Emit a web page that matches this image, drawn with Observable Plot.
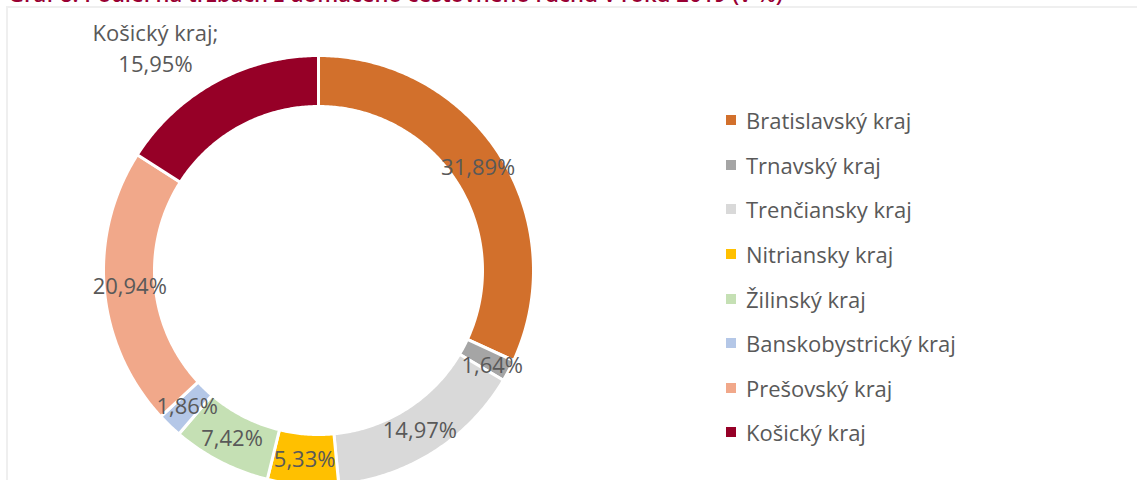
<!DOCTYPE html>
<html>
<head>
<meta charset="utf-8">
<script src="https://cdn.jsdelivr.net/npm/d3@7"></script>
<script src="https://cdn.jsdelivr.net/npm/@observablehq/plot@0.6"></script>
<style>
  html, body { margin: 0; padding: 0; background: #fff; }
  #wrap { position: relative; width: 1137px; height: 480px; overflow: hidden; font-family: "Open Sans", sans-serif; }
  #title { position: absolute; left: 8px; top: -18px; font-size: 22px; line-height: 22px; font-weight: 600; color: #990033; white-space: nowrap; }
  #frame { position: absolute; left: 6px; top: 6px; width: 1200px; height: 600px; border-left: 2px solid #efefef; border-top: 2px solid #efefef; }
  #chart { position: absolute; left: 0; top: 0; }
  #legend { position: absolute; left: 726px; top: 98px; }
  .item { height: 44.6px; display: flex; align-items: center; font-size: 22px; color: #595959; }
  .sw { width: 10px; height: 10px; margin-right: 10px; }
</style>
</head>
<body>
<div id="wrap">
  <div id="title">Graf 8: Podiel na tržbách z domáceho cestovného ruchu v roku 2019 (v %)</div>
  <div id="frame"></div>
  <div id="chart"></div>
  <div id="legend"></div>
</div>
<script>
// ---- data ----
const regions = ["Bratislavský kraj", "Trnavský kraj", "Trenčiansky kraj", "Nitriansky kraj", "Žilinský kraj", "Banskobystrický kraj", "Prešovský kraj", "Košický kraj"];
const shares = [31.89, 1.64, 14.97, 5.33, 7.42, 1.86, 20.94, 15.95];
const labels = ["31,89%", "1,64%", "14,97%", "5,33%", "7,42%", "1,86%", "20,94%", "Košický kraj;\n15,95%"];
const colors = ["#D2702C", "#A5A5A5", "#D9D9D9", "#FFC000", "#C5E0B4", "#B4C7E7", "#F1A88A", "#960027"];

// ---- layout ----
const W = 1137, H = 480;
const cx = 318, cy = 270, R = 215;   // pixel centre & outer radius
const inner = 164 / 215;              // inner radius as fraction of outer

const rows = regions.map((r, i) => ({region: r, share: shares[i], label: labels[i]}));
const arcs = d3.pie().sort(null).value(d => d.share)(rows);

const pts = [];
arcs.forEach(a => {
  const n = Math.max(4, Math.ceil((a.endAngle - a.startAngle) / 0.01));
  for (let k = 0; k <= n; k++) {
    const t = a.startAngle + (a.endAngle - a.startAngle) * k / n;
    pts.push({region: a.data.region, x: Math.sin(t), y: Math.cos(t)});
  }
  for (let k = n; k >= 0; k--) {
    const t = a.startAngle + (a.endAngle - a.startAngle) * k / n;
    pts.push({region: a.data.region, x: inner * Math.sin(t), y: inner * Math.cos(t)});
  }
});

const mid = (1 + inner) / 2;
const lab = arcs.map(a => {
  const t = (a.startAngle + a.endAngle) / 2;
  return {region: a.data.region, text: a.data.label, x: mid * Math.sin(t), y: mid * Math.cos(t)};
});
const inside = lab.filter(d => d.region !== "Košický kraj" && d.region !== "Trnavský kraj");
const trnava = lab.filter(d => d.region === "Trnavský kraj");
const outside = lab.filter(d => d.region === "Košický kraj");

const chart = Plot.plot({
  width: W, height: H,
  margin: 0,
  style: {fontFamily: "'Open Sans', sans-serif", background: "transparent"},
  x: {domain: [-cx / R, (W - cx) / R], range: [0, W], axis: null},
  y: {domain: [(cy - H) / R, cy / R], range: [H, 0], axis: null},
  color: {domain: regions, range: colors},
  marks: [
    Plot.line(pts, {x: "x", y: "y", z: "region", fill: "region", stroke: "white", strokeWidth: 3, curve: "linear-closed"}),
    Plot.text(inside, {x: "x", y: "y", text: "text", fill: "#595959", fontSize: 22}),
    Plot.text(trnava, {x: "x", y: "y", text: "text", fill: "#595959", fontSize: 22, dx: 6, dy: 7}),
    Plot.text(outside, {x: "x", y: "y", text: "text", fill: "#595959", fontSize: 22, dx: -72, dy: -58, lineHeight: 1.45})
  ]
});
document.getElementById("chart").appendChild(chart);

const legend = document.getElementById("legend");
regions.forEach((r, i) => {
  const it = document.createElement("div");
  it.className = "item";
  it.innerHTML = `<span class="sw" style="background:${colors[i]}"></span><span>${r}</span>`;
  legend.appendChild(it);
});
</script>
</body>
</html>
